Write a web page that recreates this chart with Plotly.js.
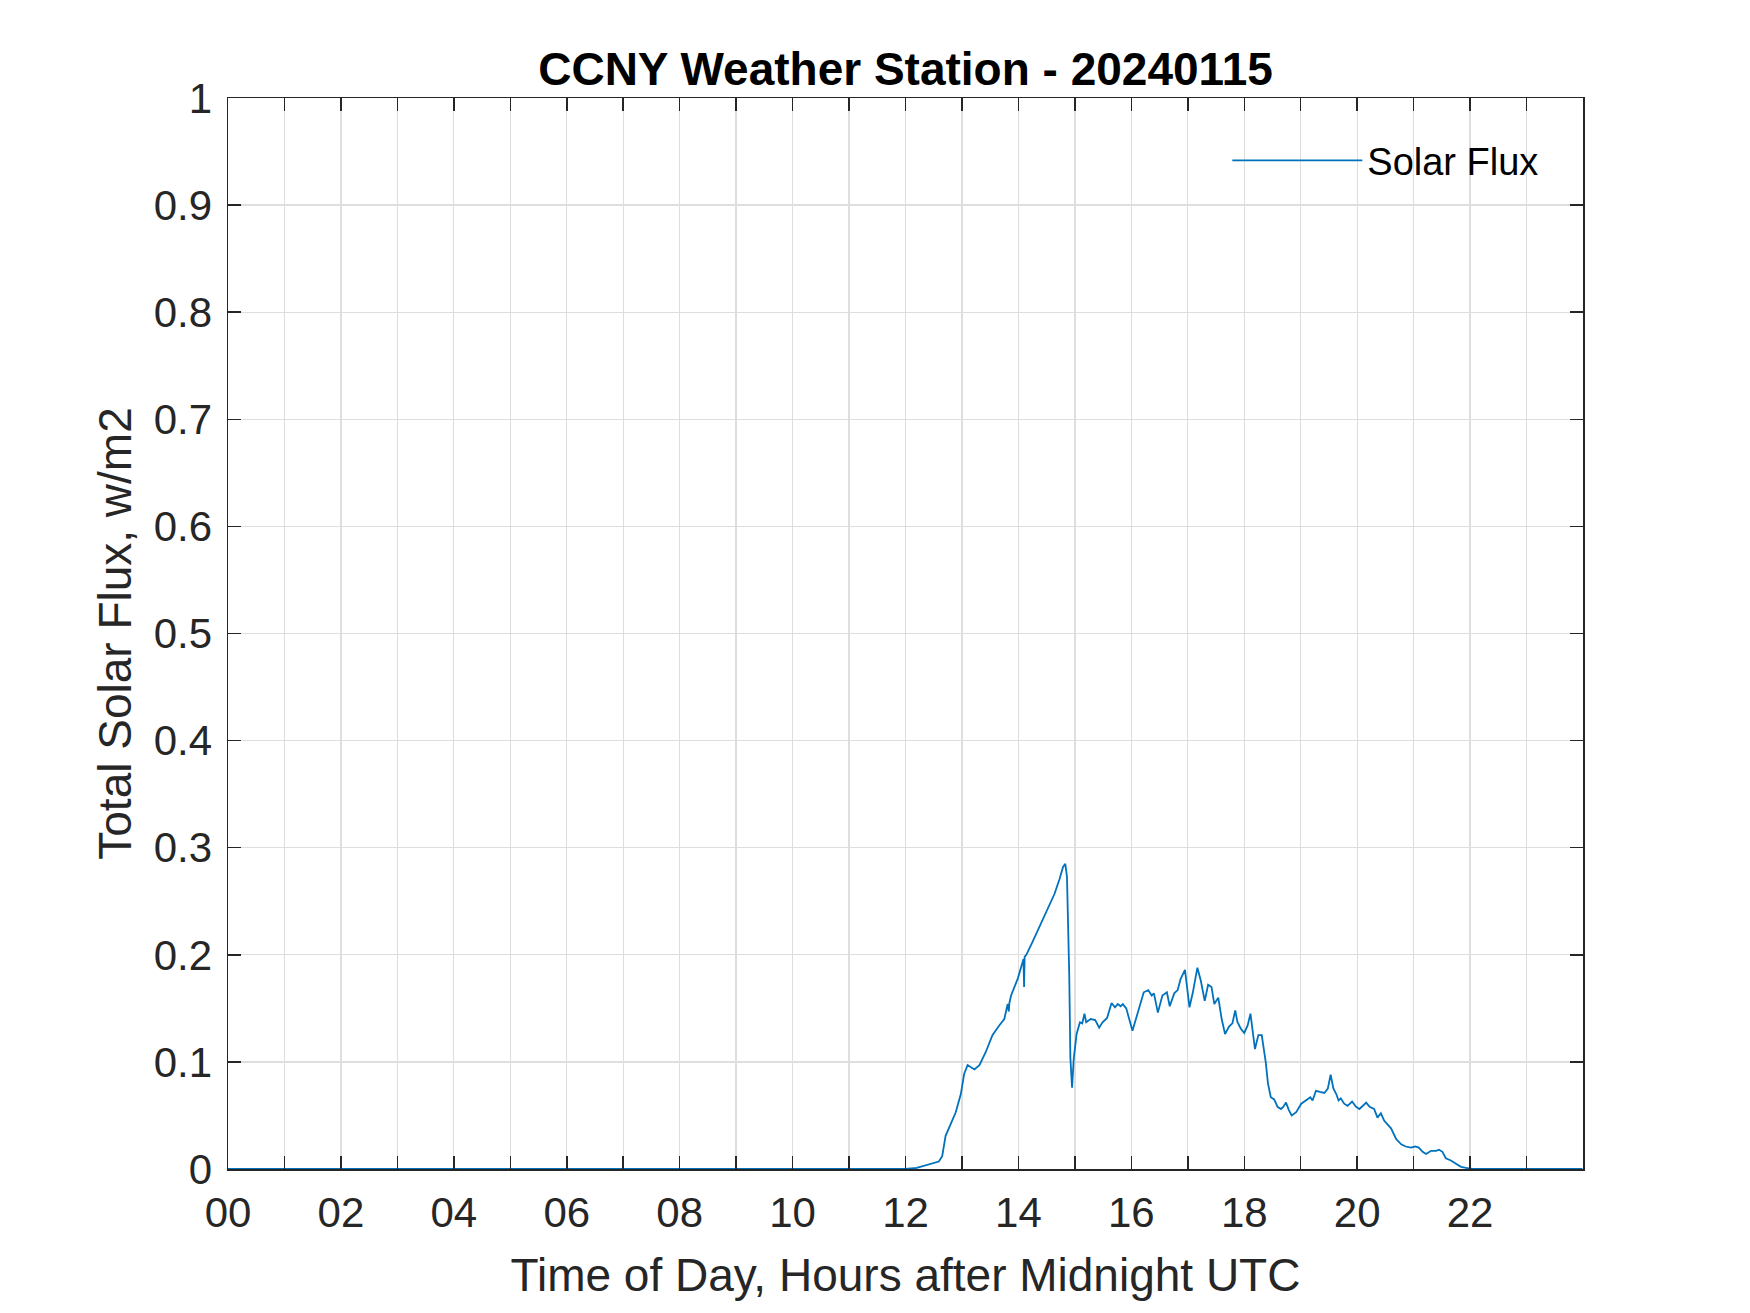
<!DOCTYPE html>
<html>
<head>
<meta charset="utf-8">
<script src="https://cdn.plot.ly/plotly-3.0.1.min.js"></script>
<style>
  html, body { margin: 0; padding: 0; background: #ffffff; }
  #chart { width: 1750px; height: 1313px; }
</style>
</head>
<body>
<div id="chart"></div>
<script>
// ---- Data ----
const hours = [
  0, 12.0, 12.2, 12.47, 12.59, 12.65, 12.71, 12.80, 12.89, 12.98,
  13.04, 13.10, 13.16, 13.22, 13.31, 13.42, 13.54, 13.61, 13.66, 13.75,
  13.81, 13.83, 13.84, 13.87, 13.99, 14.09, 14.10, 14.11, 14.14, 14.25,
  14.37, 14.52, 14.64, 14.73, 14.79, 14.83, 14.86, 14.90, 14.92, 14.95,
  14.98, 15.03, 15.09, 15.13, 15.17, 15.20, 15.28, 15.36, 15.43, 15.49,
  15.57, 15.65, 15.71, 15.76, 15.81, 15.85, 15.91, 16.02, 16.14, 16.22,
  16.30, 16.36, 16.40, 16.47, 16.55, 16.63, 16.68, 16.76, 16.82, 16.87,
  16.95, 17.03, 17.09, 17.17, 17.23, 17.30, 17.36, 17.42, 17.47, 17.54,
  17.60, 17.66, 17.73, 17.79, 17.84, 17.88, 17.94, 18.00, 18.06, 18.11,
  18.19, 18.25, 18.31, 18.38, 18.42, 18.47, 18.53, 18.59, 18.65, 18.69,
  18.74, 18.79, 18.84, 18.92, 19.01, 19.09, 19.17, 19.21, 19.27, 19.34,
  19.42, 19.48, 19.53, 19.58, 19.63, 19.67, 19.71, 19.77, 19.83, 19.91,
  19.98, 20.04, 20.10, 20.16, 20.22, 20.30, 20.36, 20.42, 20.48, 20.54,
  20.60, 20.69, 20.78, 20.86, 20.95, 21.03, 21.09, 21.16, 21.22, 21.31,
  21.40, 21.45, 21.51, 21.57, 21.66, 21.75, 21.84, 21.93, 22.04, 23.99
];
const solarFlux = [
  0, 0, 0.001, 0.005, 0.007, 0.012, 0.031, 0.042, 0.053, 0.070,
  0.089, 0.097, 0.095, 0.093, 0.097, 0.109, 0.125, 0.131, 0.134, 0.140,
  0.154, 0.147, 0.155, 0.162, 0.178, 0.196, 0.170, 0.198, 0.200, 0.212,
  0.226, 0.242, 0.257, 0.271, 0.282, 0.285, 0.273, 0.182, 0.104, 0.076,
  0.103, 0.126, 0.137, 0.136, 0.145, 0.137, 0.140, 0.139, 0.132, 0.137,
  0.141, 0.155, 0.151, 0.154, 0.152, 0.154, 0.150, 0.129, 0.151, 0.165,
  0.167, 0.162, 0.164, 0.146, 0.162, 0.165, 0.152, 0.164, 0.167, 0.177,
  0.186, 0.151, 0.165, 0.188, 0.176, 0.157, 0.172, 0.170, 0.154, 0.160,
  0.140, 0.126, 0.133, 0.136, 0.148, 0.137, 0.131, 0.127, 0.134, 0.145,
  0.112, 0.125, 0.125, 0.100, 0.080, 0.067, 0.065, 0.058, 0.056, 0.058,
  0.062, 0.055, 0.050, 0.053, 0.061, 0.064, 0.067, 0.064, 0.073, 0.072,
  0.071, 0.075, 0.088, 0.075, 0.070, 0.064, 0.066, 0.061, 0.059, 0.063,
  0.058, 0.056, 0.059, 0.062, 0.058, 0.056, 0.048, 0.052, 0.045, 0.041,
  0.038, 0.028, 0.023, 0.021, 0.020, 0.021, 0.020, 0.016, 0.014, 0.017,
  0.017, 0.018, 0.016, 0.010, 0.008, 0.005, 0.002, 0.001, 0, 0
];
const xTickVals = [0,1,2,3,4,5,6,7,8,9,10,11,12,13,14,15,16,17,18,19,20,21,22,23];
const xTickText = ["00","","02","","04","","06","","08","","10","","12","","14","","16","","18","","20","","22",""];
const seriesName = "Solar Flux";
const chartTitle = "CCNY Weather Station - 20240115";
const xLabel = "Time of Day, Hours after Midnight UTC";
const yLabel = "Total Solar Flux, w/m2";

const FONT = "Liberation Sans, Arial, Helvetica, sans-serif";
const AXC = "#262626";
const GRID = "#dedede";

const trace = {
  x: hours,
  y: solarFlux,
  type: "scatter",
  mode: "lines",
  name: seriesName,
  line: { color: "#0072BD", width: 1.8 }
};

const axisCommon = {
  showline: true,
  linecolor: AXC,
  linewidth: 1.5,
  mirror: "ticks",
  ticks: "inside",
  ticklen: 13,
  tickwidth: 1.5,
  tickcolor: AXC,
  showgrid: true,
  gridcolor: GRID,
  gridwidth: 1.3,
  zeroline: false,
  tickfont: { family: FONT, size: 42, color: AXC }
};

const layout = {
  width: 1750,
  height: 1313,
  paper_bgcolor: "#ffffff",
  plot_bgcolor: "#ffffff",
  margin: { l: 228, r: 167, t: 98, b: 144, pad: 0 },
  title: {
    text: "<b>" + chartTitle + "</b>",
    font: { family: FONT, size: 46, color: "#000000" },
    x: 0.5,
    xanchor: "center",
    xref: "paper",
    y: 1 - 69 / 1313,
    yref: "container",
    yanchor: "middle"
  },
  xaxis: Object.assign({}, axisCommon, {
    range: [0, 24],
    tickmode: "array",
    tickvals: xTickVals,
    ticktext: xTickText,
    ticklabelstandoff: 6,
    title: { text: xLabel, font: { family: FONT, size: 46, color: AXC }, standoff: 24 }
  }),
  yaxis: Object.assign({}, axisCommon, {
    range: [0, 1],
    tickmode: "linear",
    tick0: 0,
    dtick: 0.1,
    ticklabelstandoff: 6,
    title: { text: yLabel, font: { family: FONT, size: 46, color: AXC }, standoff: 7 }
  }),
  showlegend: true,
  legend: {
    x: 0.7375,
    y: 0.9414,
    xanchor: "left",
    yanchor: "middle",
    itemwidth: 130,
    bgcolor: "rgba(255,255,255,0)",
    borderwidth: 0,
    font: { family: FONT, size: 38, color: "#000000" }
  }
};

Plotly.newPlot("chart", [trace], layout, { displayModeBar: false, staticPlot: true });
</script>
</body>
</html>
